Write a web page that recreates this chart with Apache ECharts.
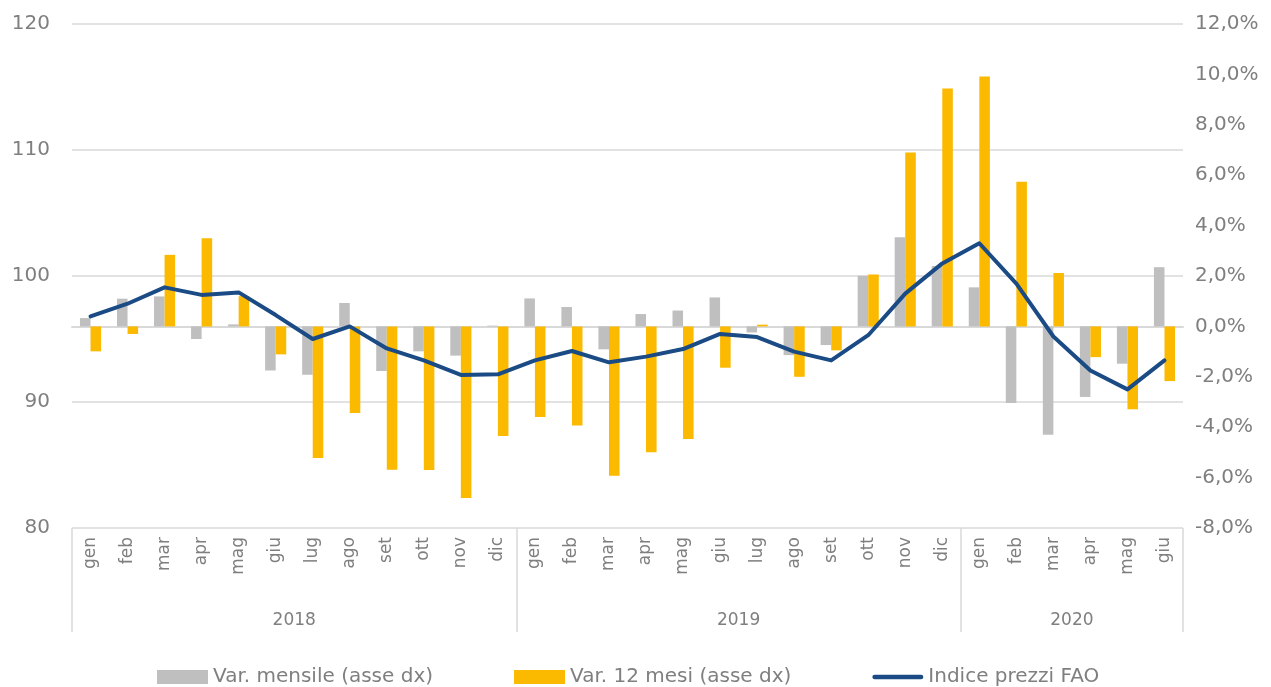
<!DOCTYPE html>
<html>
<head>
<meta charset="utf-8">
<title>Indice prezzi FAO</title>
<script src="https://cdn.jsdelivr.net/npm/echarts@6.0.0/dist/echarts.min.js"></script>
<style>
	html, body { margin: 0; padding: 0; background: #fff; }
	#chart { width: 1271px; height: 687px; }
</style>
</head>
<body>
<div id="chart"></div>
<script>
var months = ['gen', 'feb', 'mar', 'apr', 'mag', 'giu', 'lug', 'ago', 'set', 'ott', 'nov', 'dic',
	'gen', 'feb', 'mar', 'apr', 'mag', 'giu', 'lug', 'ago', 'set', 'ott', 'nov', 'dic',
	'gen', 'feb', 'mar', 'apr', 'mag', 'giu'];
var years = ['2018', '2019', '2020'];
var yearSpans = [12, 12, 6];

// variazioni in %, asse dx
var varMensile = [0.33, 1.1, 1.19, -0.5, 0.08, -1.75, -1.92, 0.93, -1.77, -0.99, -1.16, 0.03,
	1.11, 0.77, -0.91, 0.49, 0.63, 1.15, -0.24, -1.14, -0.74, 2.01, 3.54, 2.4,
	1.55, -3.04, -4.3, -2.8, -1.48, 2.35];
var var12Mesi = [-0.99, -0.3, 2.84, 3.5, 1.2, -1.11, -5.22, -3.44, -5.69, -5.7, -6.81, -4.35,
	-3.6, -3.93, -5.93, -4.99, -4.47, -1.64, 0.07, -2.0, -0.95, 2.06, 6.9, 9.44,
	9.92, 5.74, 2.12, -1.22, -3.29, -2.17];
// indice, asse sx
var indiceFao = [96.8, 97.8, 99.1, 98.5, 98.7, 96.9, 95.0, 96.0, 94.25, 93.3, 92.15, 92.2,
	93.3, 94.05, 93.15, 93.6, 94.2, 95.4, 95.15, 94.0, 93.3, 95.3, 98.6, 101.0,
	102.6, 99.4, 95.2, 92.5, 91.0, 93.3];

var leftAxis = { min: 80, max: 120, interval: 10 };
var rightAxis = { min: -8, max: 12, interval: 2 };

var FONT = 'DejaVu Sans';
var TXT = '#7f7f7f';
var GRID_C = '#d9d9d9';
var BLUE = '#1b4b85';

// asse degli anni: boundaryGap false, un punto per ogni confine di mese
var yearAxisData = [];
var yearTicks = [0];
var pos = 0;
for (var i = 0; i <= months.length; i++) yearAxisData.push('');
years.forEach(function(y, k) {
	yearAxisData[pos + yearSpans[k] / 2] = y;
	pos += yearSpans[k];
	yearTicks.push(pos);
});

var chart = echarts.init(document.getElementById('chart'), null, { renderer: 'canvas' });

var option = {
	animation: false,
	textStyle: { fontFamily: FONT, color: TXT },
	grid: { left: 72, right: 88, top: 24, bottom: 159, containLabel: false },
	legend: {
		top: 662,
		left: 152,
		itemWidth: 51,
		itemHeight: 14,
		itemGap: 81,
		textStyle: { fontFamily: FONT, fontSize: 20, color: TXT },
		data: [
			{ name: 'Var. mensile (asse dx)', icon: 'rect' },
			{ name: 'Var. 12 mesi (asse dx)', icon: 'rect' },
			{ name: 'Indice prezzi FAO', icon: 'path://M2.5,0 L53.5,0 A2.5,2.5 0 0 1 53.5,5 L2.5,5 A2.5,2.5 0 0 1 2.5,0 Z' }
		]
	},
	xAxis: [
		{
			type: 'category',
			data: months,
			axisLine: { show: true, lineStyle: { color: GRID_C, width: 2 } },
			axisTick: { show: false },
			axisLabel: { interval: 0, rotate: 90, margin: 9, fontSize: 17, color: TXT, fontFamily: FONT }
		},
		{
			type: 'category',
			position: 'bottom',
			boundaryGap: false,
			data: yearAxisData,
			axisLine: { show: false },
			axisTick: {
				show: true,
				length: 104,
				interval: function(idx) { return yearTicks.indexOf(idx) >= 0; },
				lineStyle: { color: GRID_C, width: 1.5 }
			},
			axisLabel: { interval: 0, margin: 84, fontSize: 17, color: TXT, fontFamily: FONT },
			splitLine: { show: false }
		}
	],
	yAxis: [
		{
			type: 'value',
			min: leftAxis.min,
			max: leftAxis.max,
			interval: leftAxis.interval,
			axisLine: { show: false },
			axisTick: { show: false },
			axisLabel: { margin: 22, fontSize: 20, color: TXT, fontFamily: FONT },
			splitLine: { show: true, lineStyle: { color: GRID_C, width: 1.5 } }
		},
		{
			type: 'value',
			min: rightAxis.min,
			max: rightAxis.max,
			interval: rightAxis.interval,
			axisLine: { show: false },
			axisTick: { show: false },
			splitLine: { show: false },
			axisLabel: {
				margin: 12,
				fontSize: 20,
				color: TXT,
				fontFamily: FONT,
				formatter: function(v) { return v.toFixed(1).replace('.', ',') + '%'; }
			}
		}
	],
	series: [
		{
			name: 'Var. mensile (asse dx)',
			type: 'bar',
			xAxisIndex: 0,
			yAxisIndex: 1,
			data: varMensile,
			barGap: '0%',
			barCategoryGap: '43%',
			itemStyle: { color: '#bfbfbf' }
		},
		{
			name: 'Var. 12 mesi (asse dx)',
			type: 'bar',
			xAxisIndex: 0,
			yAxisIndex: 1,
			data: var12Mesi,
			barGap: '0%',
			barCategoryGap: '43%',
			itemStyle: { color: '#fbb900' }
		},
		{
			name: 'Indice prezzi FAO',
			type: 'line',
			xAxisIndex: 0,
			yAxisIndex: 0,
			data: indiceFao,
			symbol: 'none',
			z: 5,
			lineStyle: { color: BLUE, width: 4, join: 'round', cap: 'round' },
			itemStyle: { color: BLUE }
		}
	]
};

chart.setOption(option);
</script>
</body>
</html>
